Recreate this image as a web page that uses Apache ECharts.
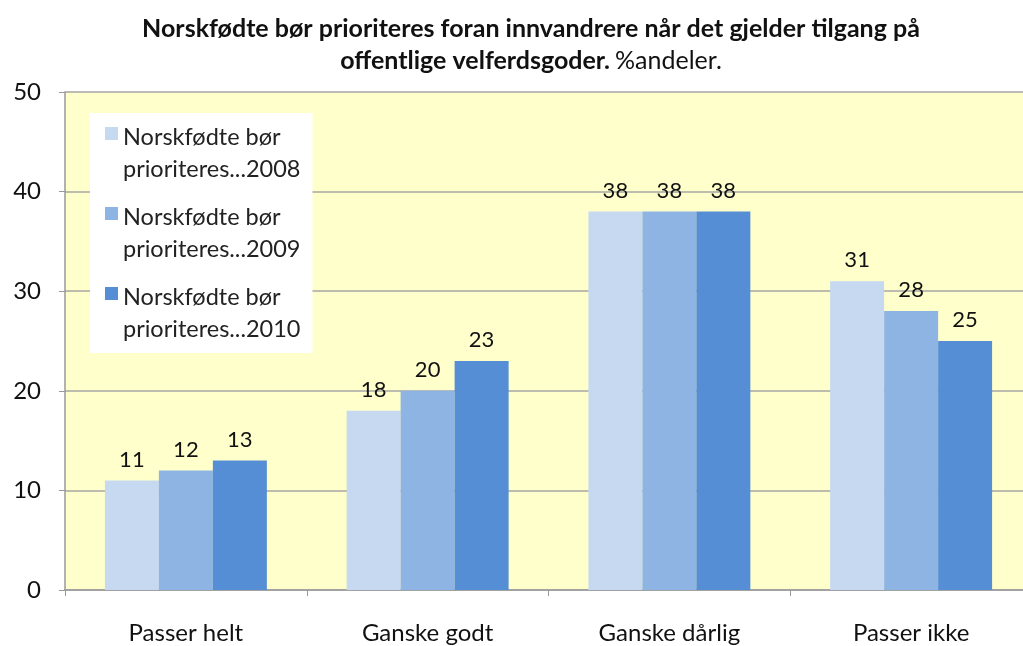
<!DOCTYPE html>
<html>
<head>
<meta charset="utf-8">
<script src="https://cdn.jsdelivr.net/npm/echarts@6/dist/echarts.min.js"></script>
<style>
  html, body { margin: 0; padding: 0; background: #fff; }
  #chart { width: 1023px; height: 646px; }
</style>
</head>
<body>
<div id="chart"></div>
<script>
// Kategorier og verdier (%)
const categories = ['Passer helt', 'Ganske godt', 'Ganske dårlig', 'Passer ikke'];
const seriesNames = ['Norskfødte bør prioriteres...2008', 'Norskfødte bør prioriteres...2009', 'Norskfødte bør prioriteres...2010'];
const values2008 = [11, 18, 38, 31];
const values2009 = [12, 20, 38, 28];
const values2010 = [13, 23, 38, 25];
const colors = ['#C6D9F1', '#8EB4E3', '#558ED5'];

const chart = echarts.init(document.getElementById('chart'));
const font = 'Lato, "Open Sans", sans-serif';

const makeSeries = (name, data, color) => ({
    name: name,
    type: 'bar',
    data: data,
    barGap: '0%',
    barCategoryGap: '33%',
    itemStyle: { color: color },
    label: {
        show: true,
        position: 'top',
        distance: 10,
        color: '#111',
        fontSize: 22,
        fontFamily: font,
    },
});

chart.setOption({
    backgroundColor: '#fff',
    title: {
        text: '{b|Norskfødte bør prioriteres foran innvandrere når det gjelder tilgang på}\n{b|offentlige velferdsgoder.} {n|%andeler.}',
        left: 526,
        textAlign: 'center',
        top: 8,
        textStyle: {
            rich: {
                b: { fontFamily: font, fontWeight: 'bold', fontSize: 25, color: '#111', lineHeight: 32 },
                n: { fontFamily: font, fontWeight: 'normal', fontSize: 25, color: '#111', lineHeight: 32 },
            },
        },
    },
    legend: {
        orient: 'vertical',
        left: 90,
        top: 113,
        padding: [8, 12, 8, 15],
        backgroundColor: '#fff',
        itemWidth: 13,
        itemHeight: 52,
        itemGap: 16,
        icon: 'path://M0,0H13V13H0Z M0,52L0.01,52',
        formatter: name => name.replace(' prioriteres', '\nprioriteres'),
        textStyle: {
            fontFamily: font,
            fontSize: 23.5,
            color: '#222',
            lineHeight: 32,
        },
        data: seriesNames,
    },
    grid: {
        left: 65,
        right: -9,
        top: 92,
        bottom: 56,
        outerBoundsMode: 'none',
        show: true,
        backgroundColor: '#FFFFCC',
        borderWidth: 0,
    },
    xAxis: {
        type: 'category',
        data: categories,
        axisLine: { lineStyle: { color: '#999', width: 1.5 } },
        axisTick: { show: true, length: 6, lineStyle: { color: '#999' } },
        axisLabel: {
            fontFamily: font,
            fontSize: 24,
            color: '#111',
            margin: 31,
        },
    },
    yAxis: {
        type: 'value',
        min: 0,
        max: 50,
        interval: 10,
        axisLine: { show: true, lineStyle: { color: '#999', width: 1.5 } },
        axisTick: { show: true, length: 6, lineStyle: { color: '#999' } },
        axisLabel: {
            fontFamily: font,
            fontSize: 24,
            color: '#111',
            margin: 24,
        },
        splitLine: { show: true, lineStyle: { color: '#A6A6A6', width: 1.5 } },
    },
    series: [
        makeSeries(seriesNames[0], values2008, colors[0]),
        makeSeries(seriesNames[1], values2009, colors[1]),
        makeSeries(seriesNames[2], values2010, colors[2]),
    ],
});
</script>
</body>
</html>
